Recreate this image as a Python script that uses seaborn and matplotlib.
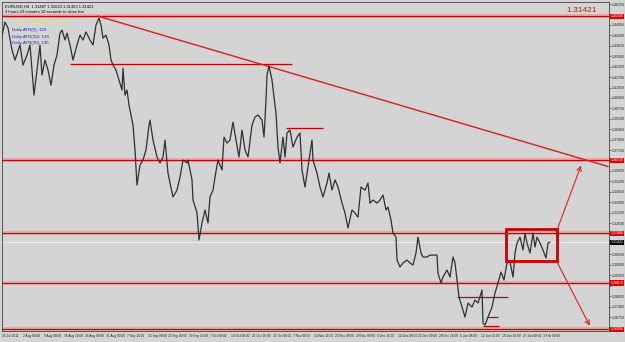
import matplotlib
matplotlib.use("Agg")
import matplotlib.pyplot as plt
import seaborn as sns
import pandas as pd
from matplotlib.patches import Rectangle
from matplotlib.ticker import MultipleLocator, FuncFormatter
import matplotlib.transforms as mtransforms

# %% data: EURUSD H4, bar position vs close
bar = [0, 5, 8, 12, 15, 20, 23, 27, 30, 34, 37, 40, 42, 45, 48, 51, 54, 57, 60, 62,
       65, 67, 70, 73, 77, 80, 83, 86, 90, 93, 96, 99, 101, 103, 106, 109, 111, 113, 116, 119,
       122, 123, 125, 127, 129, 131, 133, 135, 137, 140, 143, 146, 149,
       150, 153, 157, 160, 163, 165, 168, 170, 173, 177, 180, 183, 187, 188, 192, 193, 197,
       199, 202, 205, 208, 210, 213, 215, 218, 222, 224, 227, 230, 233, 236, 239, 242, 245, 248,
       252, 255, 258, 262, 264, 266, 267, 269, 272, 274, 276, 278, 280, 283, 285, 287, 290, 293,
       297, 300,
       302, 305, 308, 312, 313, 317, 320, 323, 327, 329, 332, 335, 338, 342, 345, 348, 352, 355,
       358, 361, 365, 368, 370, 373, 377, 380, 383, 386, 388, 391, 393, 396, 397, 400, 403, 407,
       410, 413, 416, 418, 421, 423, 427, 430, 433, 437, 438, 441, 443, 447, 450, 453, 455, 457,
       459, 462, 465, 468, 472, 475, 478, 482, 483, 485, 488, 492, 495, 498, 501, 504, 507, 510,
       513, 515, 517, 520, 523, 525, 527, 530, 533, 535, 537, 540, 543, 546, 548, 550]
close = [1.4370, 1.4513, 1.4476, 1.4339, 1.4276, 1.4370, 1.4245, 1.4307, 1.4370, 1.4058,
         1.4214, 1.4370, 1.4183, 1.4276, 1.4214, 1.4120, 1.4245, 1.4307, 1.4444, 1.4463,
         1.4401, 1.4444, 1.4370, 1.4276, 1.4370, 1.4432, 1.4401, 1.4451, 1.4401, 1.4370,
         1.4494, 1.4538, 1.4494, 1.4413, 1.4432, 1.4370, 1.4276, 1.4245, 1.4214, 1.4152,
         1.4089, 1.4226, 1.4058, 1.4089, 1.3996, 1.3934, 1.3871, 1.3716, 1.3497, 1.3622,
         1.3653, 1.3716, 1.3871,
         1.3902, 1.3778, 1.3672, 1.3635, 1.3672, 1.3778, 1.3572, 1.3510, 1.3423, 1.3466,
         1.3547, 1.3653, 1.3635, 1.3653, 1.3529, 1.3404, 1.3323,
         1.3155, 1.3261, 1.3342, 1.3261, 1.3423, 1.3466, 1.3547, 1.3653, 1.3591, 1.3796,
         1.3759, 1.3778, 1.3890, 1.3778, 1.3672, 1.3840, 1.3716, 1.3672,
         1.3871, 1.3921, 1.3934, 1.3902, 1.3796, 1.4027, 1.4183, 1.4239, 1.4152, 1.4046,
         1.3946, 1.3734, 1.3635, 1.3796, 1.3672, 1.3821, 1.3840, 1.3734,
         1.3796, 1.3821,
         1.3591, 1.3485, 1.3610, 1.3778, 1.3653, 1.3572, 1.3485, 1.3423, 1.3510, 1.3572,
         1.3466, 1.3529, 1.3485, 1.3385, 1.3323, 1.3230, 1.3342, 1.3323,
         1.3298, 1.3485, 1.3466, 1.3510, 1.3385, 1.3404, 1.3385, 1.3404, 1.3435, 1.3342,
         1.3360, 1.3279, 1.3198, 1.3173, 1.3030, 1.2987, 1.3012, 1.3030,
         1.3012, 1.2999, 1.3074, 1.3173, 1.3074, 1.3049, 1.3049, 1.3061, 1.3061, 1.3061,
         1.2949, 1.2887, 1.2924, 1.2968, 1.2924, 1.3049, 1.3012, 1.2906,
         1.2800, 1.2737, 1.2675, 1.2762, 1.2737, 1.2781, 1.2762, 1.2843, 1.2638, 1.2625,
         1.2675, 1.2737, 1.2825, 1.2887, 1.2955, 1.2906, 1.3012, 1.3018,
         1.2924, 1.3074, 1.3136, 1.3173, 1.3092, 1.3198, 1.3136, 1.3074, 1.3198, 1.3111,
         1.3173, 1.3136, 1.3092, 1.3043, 1.3136, 1.3142]

# full-width horizontal levels and short segments (price, start bar, end bar)
full_levels = [1.4550, 1.3653, 1.3198, 1.2887, 1.2600]
seg_levels = [1.4251, 1.3853, 1.2800, 1.2675, 1.2619]
seg_start = [70, 286, 457, 487, 483]
seg_end = [292, 323, 508, 498, 499]

trend_bars = [98, 608]
trend_prices = [1.4550, 1.3613]

box_bars = [506, 557]
box_prices = [1.3024, 1.3223]

arrow_from_bars = [557, 556]
arrow_from_prices = [1.3217, 1.3030]
arrow_to_bars = [582, 591]
arrow_to_prices = [1.3635, 1.2606]

last_price = 1.31421

tick_bars = [2, 23, 44, 64, 85, 106, 127, 148, 168, 189, 210, 231, 252, 273, 293,
             314, 335, 356, 377, 398, 418, 439, 460, 481, 502, 523, 543]
tick_labels = ["25 Jul 2011", "2 Aug 08:00", "9 Aug 00:00", "16 Aug 16:00", "24 Aug 08:00",
               "31 Aug 00:00", "7 Sep 16:00", "15 Sep 08:00", "22 Sep 00:00", "29 Sep 16:00",
               "7 Oct 08:00", "14 Oct 00:00", "21 Oct 16:00", "31 Oct 08:00", "7 Nov 00:00",
               "14 Nov 16:00", "22 Nov 08:00", "29 Nov 00:00", "6 Dec 16:00", "14 Dec 08:00",
               "21 Dec 00:00", "28 Dec 16:00", "5 Jan 08:00", "12 Jan 00:00", "19 Jan 16:00",
               "27 Jan 08:00", "3 Feb 00:00"]

# %% plot
bg = '#d4d4d4'
red = '#c80000'
sns.set_style("white", {"axes.facecolor": bg, "figure.facecolor": bg})
plt.rcParams['font.family'] = ['Liberation Sans', 'DejaVu Sans']

fig = plt.figure(figsize=(6.25, 3.42), dpi=100)
ax = fig.add_axes([2 / 625, 11 / 342, 607 / 625, 329 / 342])

df = pd.DataFrame({'bar': bar, 'close': close})

# red levels with a soft pink halo, like the MT4 selection glow
for lvl in full_levels:
    ax.axhline(lvl, color='#eaa0a0', lw=2.6, zorder=1)
    ax.axhline(lvl, color=red, lw=0.8, zorder=2)
for lvl, a, b in zip(seg_levels, seg_start, seg_end):
    ax.hlines(lvl, a, b, color=red, lw=0.9, zorder=2)

ax.axhline(last_price, color='#ececec', lw=0.7, zorder=1)

sns.lineplot(data=df, x='bar', y='close', color='#303030', lw=0.9,
             estimator=None, sort=False, ax=ax, zorder=3)

ax.plot(trend_bars, trend_prices, color='#d82020', lw=1.0, zorder=2)
ax.add_patch(Rectangle((box_bars[0], box_prices[0]), box_bars[1] - box_bars[0],
                       box_prices[1] - box_prices[0], fill=False, edgecolor=red, lw=2.0, zorder=4))
for x0, y0, x1, y1 in zip(arrow_from_bars, arrow_from_prices, arrow_to_bars, arrow_to_prices):
    ax.annotate('', xy=(x1, y1), xytext=(x0, y0),
                arrowprops=dict(arrowstyle='->', color='#e02020', lw=0.8,
                                mutation_scale=8), zorder=4)

ax.set_xlim(2, 609)
ax.set_ylim(1.2588, 1.4638)
ax.set_xlabel('')
ax.set_ylabel('')

# price axis on the right; labels hidden where a price tag sits on top of them
tag_levels = full_levels + [last_price]


def price_fmt(v, pos):
    if any(abs(v - t) < 0.0035 for t in tag_levels):
        return ''
    return f'{v:.5f}'


ax.yaxis.tick_right()
ax.yaxis.set_major_locator(MultipleLocator(0.0065))
ax.yaxis.set_major_formatter(FuncFormatter(price_fmt))
ax.tick_params(axis='y', labelsize=2.6, length=1.2, width=0.4, pad=0.6, colors='#202020')
ax.set_xticks(tick_bars)
ax.set_xticklabels(tick_labels, ha='left')
ax.tick_params(axis='x', labelsize=2.3, length=1.5, width=0.4, pad=1, colors='#202020')
for s in ax.spines.values():
    s.set_color('#404040')
    s.set_linewidth(0.6)

# price tags on the axis
trans = mtransforms.blended_transform_factory(ax.transAxes, ax.transData)
for lvl in full_levels:
    ax.text(1.003, lvl, f'{lvl:.5f}', transform=trans, fontsize=2.6, color='white',
            va='center', ha='left', zorder=6,
            bbox=dict(boxstyle='square,pad=0.15', fc='#e00000', ec='none'))
ax.text(1.003, last_price, f'{last_price:.5f}', transform=trans, fontsize=2.6, color='white',
        va='center', ha='left', zorder=6,
        bbox=dict(boxstyle='square,pad=0.15', fc='black', ec='none'))

# header texts
ax.text(0.005, 0.993, 'EURUSD,H4  1.31487 1.31623 1.31353 1.31421', transform=ax.transAxes,
        fontsize=3.0, va='top', ha='left', color='black')
ax.text(0.005, 0.975, '3 hours 23 minutes 10 seconds to close bar', transform=ax.transAxes,
        fontsize=3.0, va='top', ha='left', color='black')
ax.text(0.955, 0.985, f'{last_price:.5f}', transform=ax.transAxes, fontsize=6,
        va='top', ha='center', color='#cc1010')
ax.text(0.018, 0.936, 'Daily Movement(s): 78(60%)', transform=ax.transAxes,
        fontsize=3.2, va='center', ha='left', color='#f0f020', zorder=5)
for i, t in enumerate(['Daily ATR(5): 129', 'Daily ATR(10): 128', 'Daily ATR(20): 135']):
    ax.text(0.016, 0.916 - i * 0.021, t, transform=ax.transAxes,
            fontsize=3.2, va='center', ha='left', color='#2020c8', zorder=5)

fig.savefig('out.png', dpi=100, facecolor=bg)
plt.close('all')
